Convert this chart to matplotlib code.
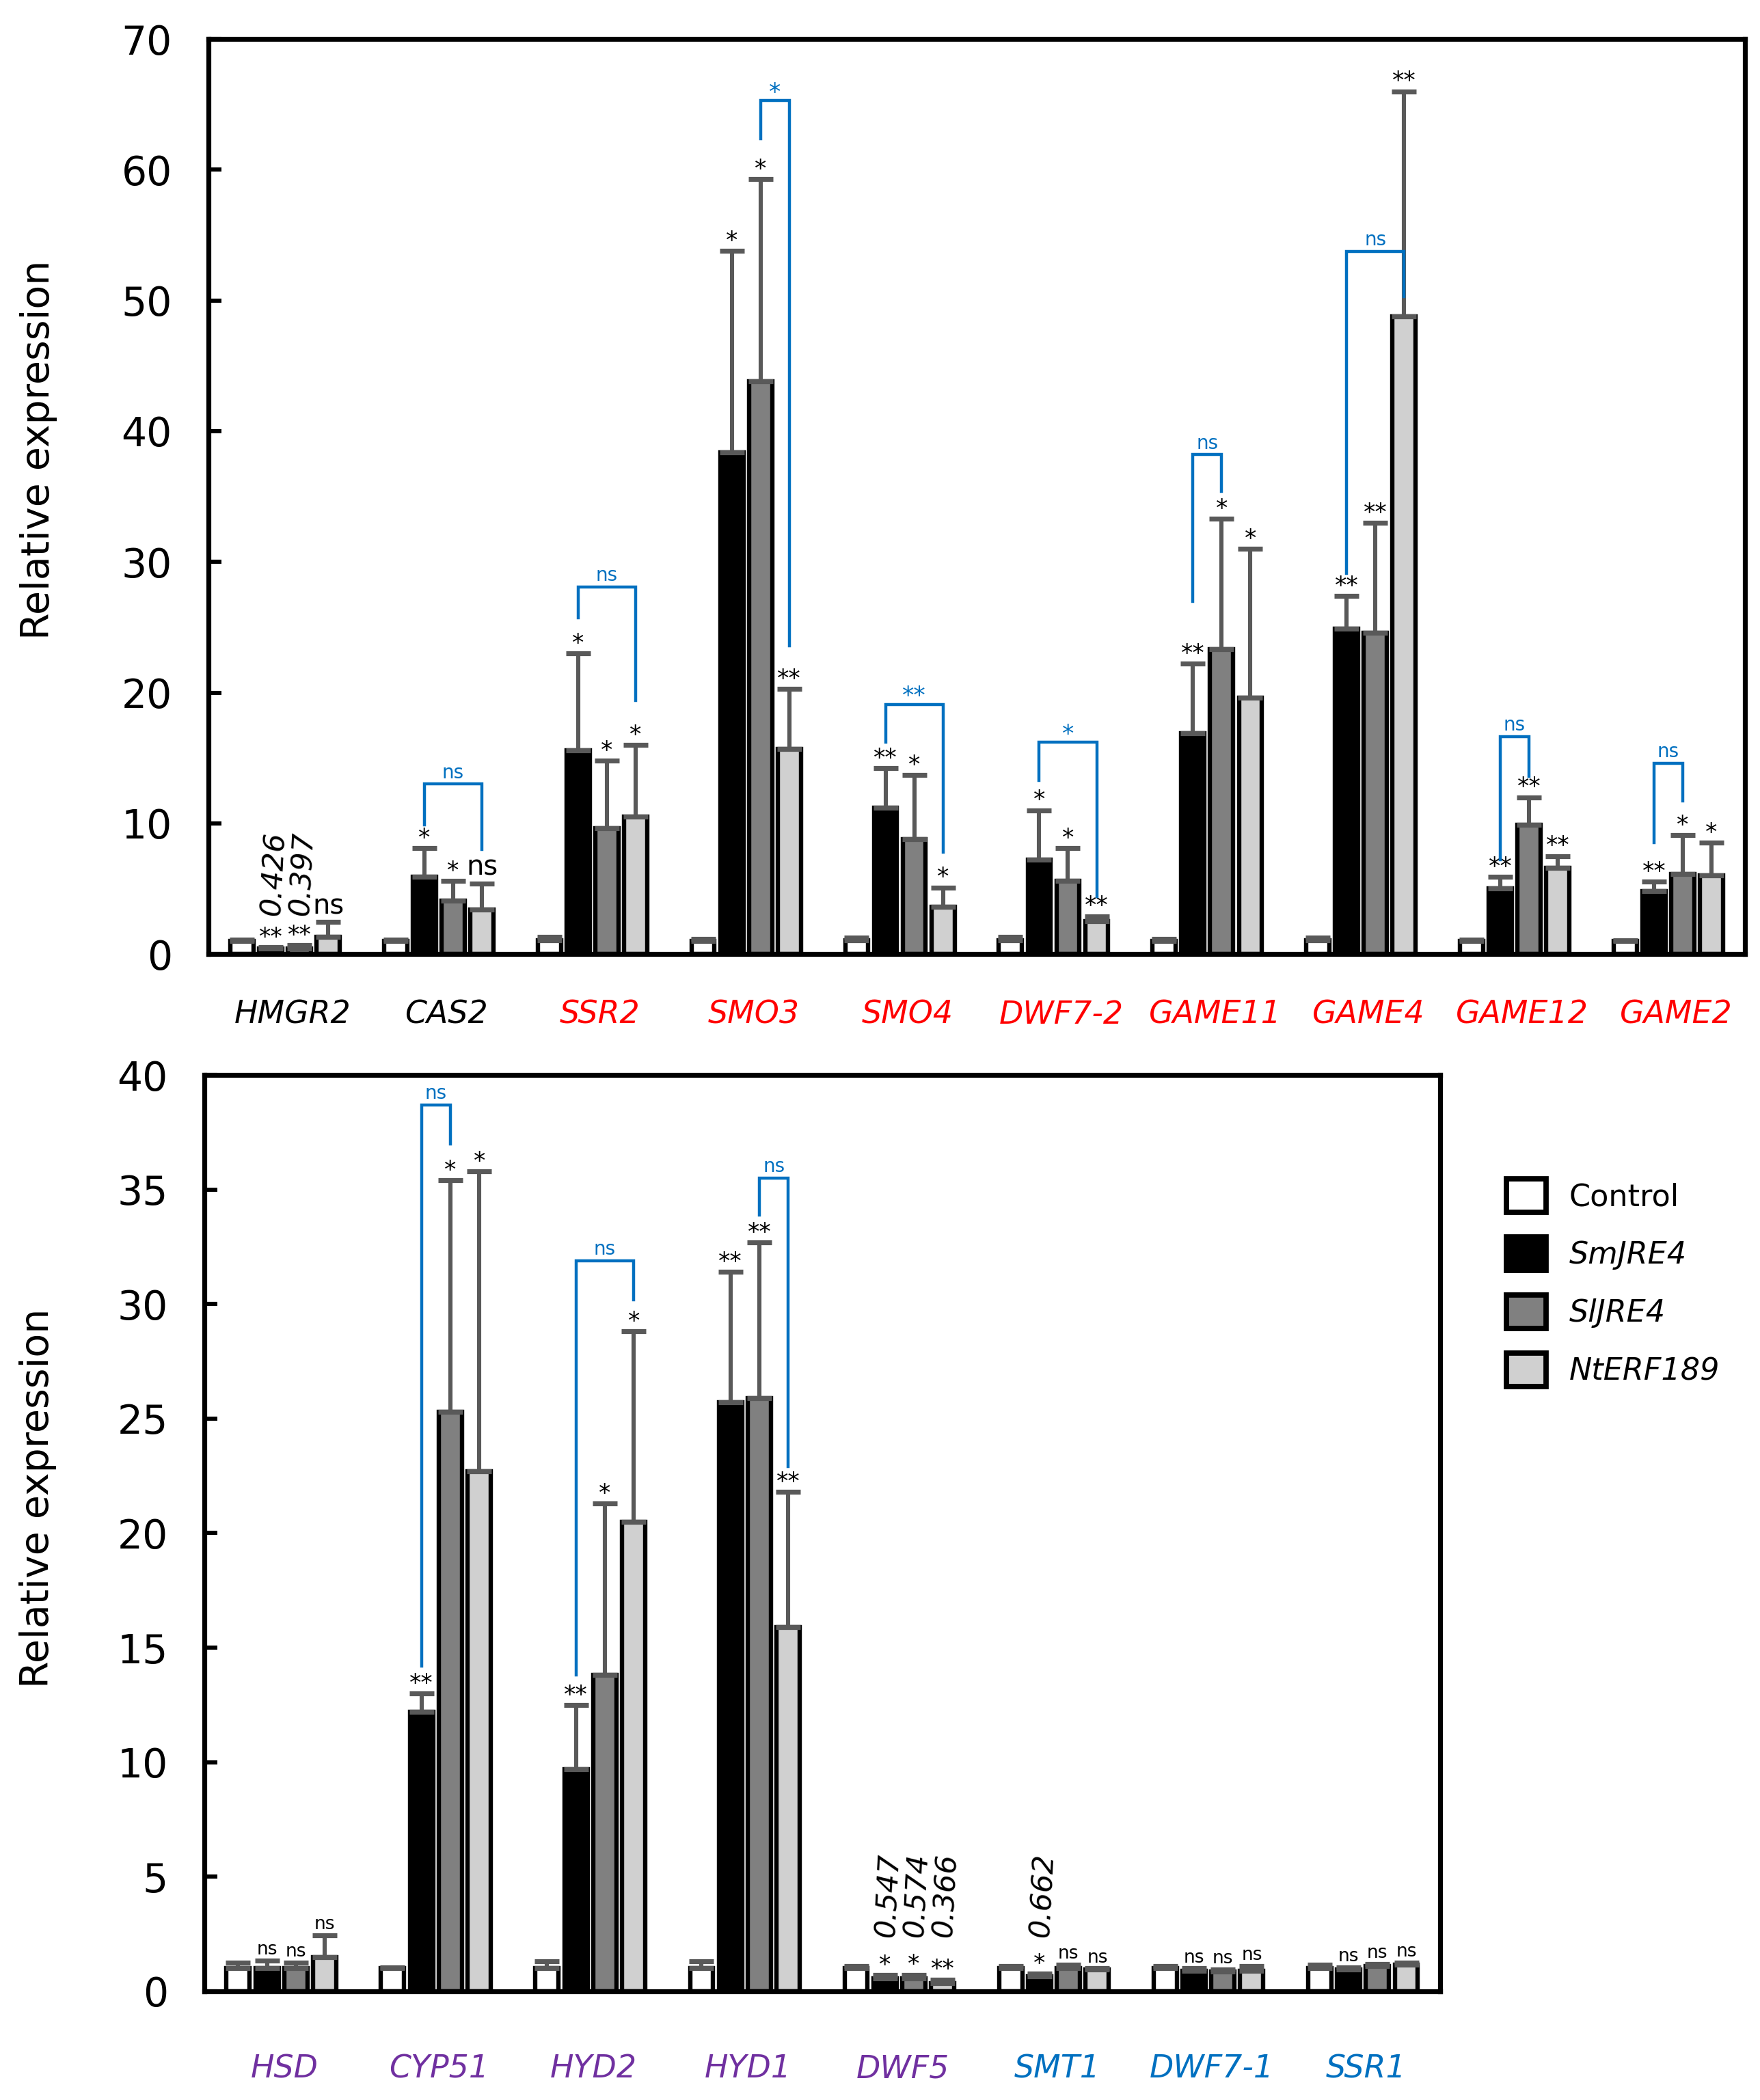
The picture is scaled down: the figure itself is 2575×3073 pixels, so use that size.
import matplotlib
matplotlib.use("Agg")
import matplotlib.pyplot as plt
from matplotlib.patches import Patch
import numpy as np

# ---------------- data ----------------
series_names = ["Control", "SmJRE4", "SlJRE4", "NtERF189"]

genes_top = ["HMGR2", "CAS2", "SSR2", "SMO3", "SMO4", "DWF7-2", "GAME11", "GAME4", "GAME12", "GAME2"]
gene_colors_top = ["black", "black", "#FF0000", "#FF0000", "#FF0000", "#FF0000", "#FF0000", "#FF0000", "#FF0000", "#FF0000"]
control_top = [1.0, 1.0, 1.05, 1.0, 1.05, 1.05, 1.0, 1.05, 1.0, 1.0]
control_top_err = [0.1, 0.1, 0.25, 0.15, 0.2, 0.25, 0.15, 0.2, 0.1, 0.05]
sm_top = [0.426, 5.9, 15.6, 38.4, 11.2, 7.2, 16.9, 24.9, 5.0, 4.8]
sm_top_err = [0.1, 2.2, 7.4, 15.4, 3.0, 3.8, 5.3, 2.5, 0.9, 0.75]
sl_top = [0.397, 4.1, 9.6, 43.8, 8.8, 5.6, 23.3, 24.6, 9.9, 6.1]
sl_top_err = [0.28, 1.5, 5.2, 15.5, 4.9, 2.5, 10.0, 8.4, 2.1, 3.0]
nt_top = [1.3, 3.4, 10.5, 15.7, 3.6, 2.5, 19.6, 48.8, 6.6, 6.0]
nt_top_err = [1.15, 2.0, 5.5, 4.6, 1.5, 0.4, 11.4, 17.2, 0.9, 2.5]
sig_sm_top = ["**", "*", "*", "*", "**", "*", "**", "**", "**", "**"]
sig_sl_top = ["**", "*", "*", "*", "*", "*", "*", "**", "**", "*"]
sig_nt_top = ["ns", "ns", "*", "**", "*", "**", "*", "**", "**", "*"]
# rotated fold-change values: (gene index, series index, text)
values_top = [(0, 1, "0.426"), (0, 2, "0.397")]
# brackets: (gene index, left series, right series, left leg bottom, right leg bottom, top, label)
brackets_top = [
    (1, 1, 3, 9.9, 8.0, 13.0, "ns"),
    (2, 1, 3, 25.7, 19.4, 28.1, "ns"),
    (3, 2, 3, 62.4, 23.6, 65.3, "*"),
    (4, 1, 3, 16.2, 7.8, 19.1, "**"),
    (5, 1, 3, 13.3, 4.4, 16.2, "*"),
    (6, 1, 2, 27.0, 35.4, 38.2, "ns"),
    (7, 1, 3, 29.1, 50.3, 53.75, "ns"),
    (8, 1, 2, 7.2, 13.6, 16.65, "ns"),
    (9, 1, 2, 8.5, 11.7, 14.6, "ns"),
]

genes_bot = ["HSD", "CYP51", "HYD2", "HYD1", "DWF5", "SMT1", "DWF7-1", "SSR1"]
gene_colors_bot = ["#7030A0", "#7030A0", "#7030A0", "#7030A0", "#7030A0", "#0070C0", "#0070C0", "#0070C0"]
control_bot = [1.0, 1.0, 1.0, 1.0, 1.0, 1.0, 1.0, 1.0]
control_bot_err = [0.25, 0.05, 0.3, 0.3, 0.1, 0.1, 0.1, 0.15]
sm_bot = [1.0, 12.2, 9.7, 25.7, 0.547, 0.662, 0.9, 0.95]
sm_bot_err = [0.35, 0.8, 2.8, 5.7, 0.15, 0.1, 0.1, 0.1]
sl_bot = [1.0, 25.3, 13.8, 25.9, 0.574, 1.0, 0.85, 1.1]
sl_bot_err = [0.25, 10.1, 7.5, 6.8, 0.15, 0.15, 0.1, 0.1]
nt_bot = [1.5, 22.7, 20.5, 15.9, 0.366, 0.95, 0.9, 1.15]
nt_bot_err = [0.95, 13.1, 8.3, 5.9, 0.15, 0.05, 0.2, 0.1]
sig_sm_bot = ["ns", "**", "**", "**", "*", "*", "ns", "ns"]
sig_sl_bot = ["ns", "*", "*", "**", "*", "ns", "ns", "ns"]
sig_nt_bot = ["ns", "*", "*", "**", "**", "ns", "ns", "ns"]
values_bot = [(4, 1, "0.547"), (4, 2, "0.574"), (4, 3, "0.366"), (5, 1, "0.662")]
brackets_bot = [
    (1, 1, 2, 14.2, 37.0, 38.7, "ns"),
    (2, 1, 3, 13.8, 30.2, 31.9, "ns"),
    (3, 2, 3, 33.9, 22.9, 35.5, "ns"),
]

yticks_top = [0, 10, 20, 30, 40, 50, 60, 70]
yticks_bot = [0, 5, 10, 15, 20, 25, 30, 35, 40]

# ---------------- style ----------------
bar_colors = ["white", "black", "#808080", "#D0D0D0"]
err_color = "#595959"
blue = "#0070C0"
step = 0.187
width = 0.15
FONT = "DejaVu Sans"
plt.rcParams["font.family"] = [FONT]

fig = plt.figure(figsize=(12.875, 15.365), dpi=200)
ax1 = fig.add_axes([0.1183, 0.5457, 0.8733, 0.4357])
ax2 = fig.add_axes([0.1160, 0.0518, 0.7023, 0.4363])


def draw_panel(ax, genes, gcolors, means, errs, sigs, values, values_y, brackets,
               yticks, ylim, ns_big, label_pad, label_shift, ylab_xy):
    n = len(genes)
    x = np.arange(n)
    offs = [(j - 1.5) * step for j in range(4)]
    for j in range(4):
        ax.bar(x + offs[j], means[j], width=width, color=bar_colors[j],
               edgecolor="black", linewidth=2.3, zorder=2)
        ax.errorbar(x + offs[j], means[j], yerr=[np.zeros(n), errs[j]],
                    fmt="none", ecolor=err_color, elinewidth=2.2,
                    capsize=6.5, capthick=2.6, zorder=3)
    # significance labels
    for j in range(1, 4):
        for i in range(n):
            s = sigs[j - 1][i]
            top = means[j][i] + errs[j][i]
            if s == "ns":
                fs = 14.5 if ns_big(i) else 9.5
                dy = 1
            else:
                fs = 12.5
                dy = -1
            ax.annotate(s, (x[i] + offs[j], top), xytext=(0, dy),
                        textcoords="offset points", ha="center", va="bottom",
                        fontsize=fs, color="black", zorder=4)
    # rotated values
    for (i, j, t) in values:
        ax.text(x[i] + offs[j] + 0.02, values_y, t, rotation=87,
                style="italic", fontsize=15.5, ha="center", va="bottom", zorder=4)
    # brackets
    for (i, a, b, ya, yb, yt, lab) in brackets:
        xa = x[i] + offs[a]
        xb = x[i] + offs[b]
        ax.plot([xa, xa, xb, xb], [ya, yt, yt, yb], color=blue, lw=1.6,
                solid_joinstyle="miter", zorder=5)
        fs = 10 if lab == "ns" else 12.5
        ax.annotate(lab, ((xa + xb) / 2, yt), xytext=(0, 1 if lab == "ns" else -2),
                    textcoords="offset points", ha="center", va="bottom",
                    fontsize=fs, color=blue, zorder=5)
    ax.set_xlim(-0.5, n - 0.5)
    ax.set_ylim(*ylim)
    ax.set_yticks(yticks)
    ax.set_xticks(x + label_shift)
    ax.set_xticklabels(genes, style="italic", fontsize=16.5)
    for lbl, c in zip(ax.get_xticklabels(), gcolors):
        lbl.set_color(c)
    ax.tick_params(axis="x", length=0, pad=label_pad)
    ax.tick_params(axis="y", direction="in", length=7, width=2.2,
                   labelsize=21, pad=19)
    for sp in ax.spines.values():
        sp.set_linewidth(2.6)
    ax.set_ylabel("Relative expression", fontsize=20.5)
    ax.yaxis.set_label_coords(*ylab_xy)


draw_panel(ax1, genes_top, gene_colors_top,
           [control_top, sm_top, sl_top, nt_top],
           [control_top_err, sm_top_err, sl_top_err, nt_top_err],
           [sig_sm_top, sig_sl_top, sig_nt_top], values_top, 2.9, brackets_top,
           yticks_top, (0, 70), lambda i: i < 2, 24, 0.05, (-0.098, 0.551))

draw_panel(ax2, genes_bot, gene_colors_bot,
           [control_bot, sm_bot, sl_bot, nt_bot],
           [control_bot_err, sm_bot_err, sl_bot_err, nt_bot_err],
           [sig_sm_bot, sig_sl_bot, sig_nt_bot], values_bot, 2.35, brackets_bot,
           yticks_bot, (0, 40), lambda i: False, 33, 0.02, (-0.119, 0.538))

handles = [Patch(facecolor=c, edgecolor="black", linewidth=2.8) for c in bar_colors]
leg = fig.legend(handles, series_names, loc="upper left",
                 bbox_to_anchor=(0.856, 0.4385), frameon=False, fontsize=16,
                 handlelength=1.3, handleheight=1.3, labelspacing=0.82,
                 handletextpad=0.75, borderpad=0, borderaxespad=0)
for t in leg.get_texts()[1:]:
    t.set_style("italic")

fig.savefig("out.png", dpi=200)
